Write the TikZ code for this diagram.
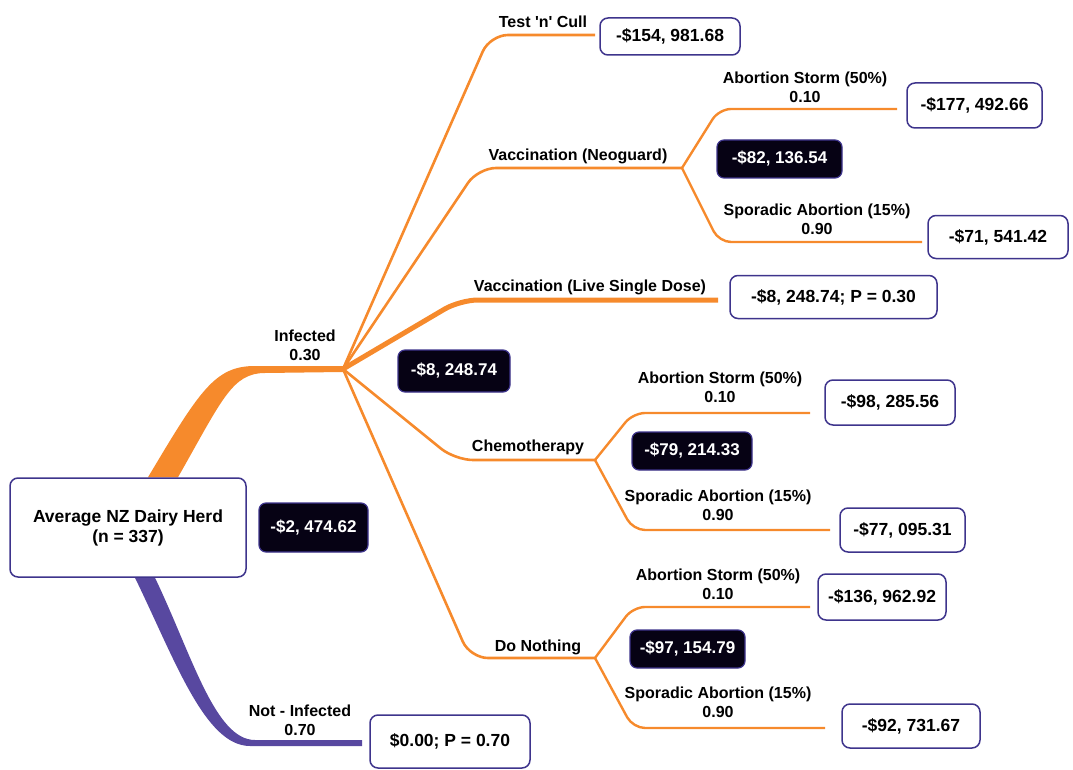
\documentclass[tikz,border=0pt]{standalone}
\usepackage{fontspec}
\setmainfont{Liberation Sans}
\usetikzlibrary{calc, backgrounds}
\definecolor{treeorange}{RGB}{246,138,44}
\definecolor{herdpurple}{RGB}{88,72,160}
\definecolor{boxline}{RGB}{62,52,140}
\definecolor{evblack}{RGB}{6,2,20}

\begin{document}
\begin{tikzpicture}[x=1pt, y=-1pt,
    font=\fontsize{16}{19}\selectfont\bfseries,
    payoff/.style={draw=boxline, line width=1.5pt, rounded corners=8pt, fill=white, inner sep=0pt, align=center,
        font=\fontsize{17.5}{20}\selectfont\bfseries},
    evbox/.style={draw=boxline, line width=1.2pt, rounded corners=7pt, fill=evblack, text=white, inner sep=0pt,
        font=\fontsize{17}{20}\selectfont\bfseries},
    lbl/.style={align=center, inner sep=0pt},
    branch/.style={draw=treeorange, line width=2.6pt, rounded corners=18pt},
    subbranch/.style={branch, line width=2.4pt, rounded corners=12pt},
    bestbranch/.style={branch, line width=5pt}]
    \useasboundingbox (0,0) rectangle (1073,770);

    % Branch points
    \coordinate (inf) at (343,369);
    \coordinate (notinf) at (362,743);
    \coordinate (neo) at (682,168);
    \coordinate (chemo) at (595,460);
    \coordinate (nothing) at (595,658);

    % Ends of the leaf lines
    \coordinate (tcend) at (595,35);
    \coordinate (neoAend) at (897,109);
    \coordinate (neoSend) at (922,242);
    \coordinate (liveend) at (718,300);
    \coordinate (chemoAend) at (810,413);
    \coordinate (chemoSend) at (830,530);
    \coordinate (nothingAend) at (810,607);
    \coordinate (nothingSend) at (825,728);

    % Root
    \node[payoff, minimum width=236pt, minimum height=99pt] (herd) at (128,527.5) {Average NZ Dairy Herd\\(n = 337)};
    \node[evbox, minimum width=109pt, minimum height=49pt] (herdev) at (313.5,527.5) {-\$2, 474.62};

    % Infected / not infected
    \node[lbl] (infl) at (305,345) {Infected\\0.30};
    \node[lbl] (notinfl) at (300,720) {Not - Infected\\0.70};
    \node[payoff, minimum width=160pt, minimum height=53pt] (notinfv) at (450,741.5) {\$0.00; P = 0.70};
    \node[evbox, minimum width=112pt, minimum height=42pt] (infev) at (454,371) {-\$8, 248.74};

    % Options after infection
    \node[lbl] (tcl) at (543,22) {Test \textquotesingle n\textquotesingle\ Cull};
    \node[payoff, minimum width=140pt, minimum height=37pt] (tcv) at (670,36.5) {-\$154, 981.68};
    \node[lbl] (neol) at (578,156) {Vaccination (Neoguard)};
    \node[lbl] (livel) at (590,287) {Vaccination (Live Single Dose)};
    \node[payoff, minimum width=207pt, minimum height=43pt] (livev) at (833.5,297) {-\$8, 248.74; P = 0.30};
    \node[lbl] (chemol) at (528,447) {Chemotherapy};
    \node[lbl] (nothingl) at (538,647) {Do Nothing};

    % Neoguard outcomes
    \node[lbl] (neoAl) at (805,87) {Abortion Storm (50\%)\\0.10};
    \node[payoff, minimum width=135pt, minimum height=45pt] (neoAv) at (974.5,105.5) {-\$177, 492.66};
    \node[evbox, minimum width=125pt, minimum height=38pt] (neoev) at (779.5,159) {-\$82, 136.54};
    \node[lbl] (neoSl) at (817,219) {Sporadic Abortion (15\%)\\0.90};
    \node[payoff, minimum width=140pt, minimum height=43pt] (neoSv) at (998,237) {-\$71, 541.42};

    % Chemotherapy outcomes
    \node[lbl] (chemoAl) at (720,387) {Abortion Storm (50\%)\\0.10};
    \node[payoff, minimum width=130pt, minimum height=45pt] (chemoAv) at (890,402.5) {-\$98, 285.56};
    \node[evbox, minimum width=120pt, minimum height=38pt] (chemoev) at (692,451) {-\$79, 214.33};
    \node[lbl] (chemoSl) at (718,505) {Sporadic Abortion (15\%)\\0.90};
    \node[payoff, minimum width=125pt, minimum height=44pt] (chemoSv) at (902.5,530) {-\$77, 095.31};

    % Do nothing outcomes
    \node[lbl] (nothingAl) at (718,584) {Abortion Storm (50\%)\\0.10};
    \node[payoff, minimum width=128pt, minimum height=46pt] (nothingAv) at (882,597) {-\$136, 962.92};
    \node[evbox, minimum width=115pt, minimum height=38pt] (nothingev) at (687.5,649) {-\$97, 154.79};
    \node[lbl] (nothingSl) at (718,702) {Sporadic Abortion (15\%)\\0.90};
    \node[payoff, minimum width=138pt, minimum height=44pt] (nothingSv) at (911,726) {-\$92, 731.67};

    \begin{scope}[on background layer]
        % Bands out of the root
        \fill[treeorange] ($(herd.north)+(20,0)$) .. controls (200,390) and (215,366) .. (255,366)
            -- ($(inf)+(0,-3)$) -- ($(inf)+(0,3)$) -- (265,373)
            .. controls (232,373) and (222,400) .. ($(herd.north)+(50,0)$) -- cycle;
        \fill[herdpurple] ($(herd.south)+(7,0)$) .. controls (175,660) and (205,746) .. (250,746)
            -- ($(notinf)+(0,3)$) -- ($(notinf)+(0,-3)$) -- (255,740)
            .. controls (215,740) and (192,655) .. ($(herd.south)+(27,0)$) -- cycle;

        % Options
        \draw[branch] (inf) -- (490,35) -- (tcend);
        \draw[branch] (inf) -- (478,168) -- (neo);
        \draw[bestbranch] (inf) -- (460,300) -- (liveend);
        \draw[branch] (inf) -- (455,460) -- (chemo);
        \draw[branch] (inf) -- (470,658) -- (nothing);

        % Outcomes
        \draw[subbranch] (neo) -- (719,109) -- (neoAend);
        \draw[subbranch] (neo) -- (719,242) -- (neoSend);
        \draw[subbranch] (chemo) -- (633,413) -- (chemoAend);
        \draw[subbranch] (chemo) -- (633,530) -- (chemoSend);
        \draw[subbranch] (nothing) -- (633,607) -- (nothingAend);
        \draw[subbranch] (nothing) -- (633,728) -- (nothingSend);
    \end{scope}
\end{tikzpicture}
\end{document}
